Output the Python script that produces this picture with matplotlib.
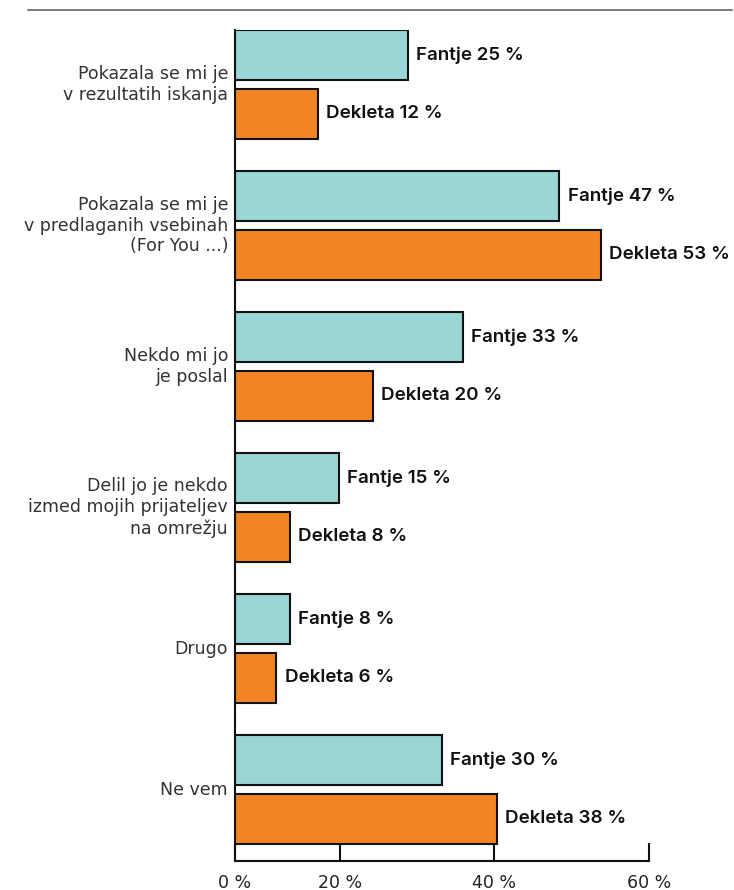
import matplotlib.pyplot as plt
from matplotlib.lines import Line2D
import numpy as np

# data
categories = [
    "Pokazala se mi je\nv rezultatih iskanja",
    "Pokazala se mi je\nv predlaganih vsebinah\n(For You ...)",
    "Nekdo mi jo\nje poslal",
    "Delil jo je nekdo\nizmed mojih prijateljev\nna omrežju",
    "Drugo",
    "Ne vem",
]
fantje = [25, 47, 33, 15, 8, 30]
dekleta = [12, 53, 20, 8, 6, 38]
series_names = ["Fantje", "Dekleta"]

# tick labels as printed (the middle ticks sit off the bar scale in the original)
tick_pos = [0, 15.2, 37.5, 60]
tick_labels = ["0 %", "20 %", "40 %", "60 %"]

teal = "#9ad5d5"
orange = "#f28423"

plt.rcParams['font.family'] = ['DejaVu Sans']

fig = plt.figure(figsize=(7.34, 8.90), dpi=100)
ax = fig.add_axes([235 / 734, 1 - 861 / 890, 414 / 734, 831 / 890])

y = np.arange(len(categories))
h = 0.355
off = 0.209

ax.barh(y - off, fantje, height=h, color=teal, edgecolor="#111111", linewidth=1.5)
ax.barh(y + off, dekleta, height=h, color=orange, edgecolor="#111111", linewidth=1.5)

for i in range(len(categories)):
    ax.text(fantje[i] + 1.2, y[i] - off, f"{series_names[0]} {fantje[i]} %",
            va="center", ha="left", fontsize=13.5, fontweight="semibold",
            family="Inter", color="#111111")
    ax.text(dekleta[i] + 1.2, y[i] + off, f"{series_names[1]} {dekleta[i]} %",
            va="center", ha="left", fontsize=13.5, fontweight="semibold",
            family="Inter", color="#111111")
    ax.text(-1.0, y[i], categories[i], va="center", ha="right", fontsize=12.5,
            color="#333333", linespacing=1.2)

ax.set_xlim(0, 60)
ax.set_ylim(5 + 71.5 / 141, -54.5 / 141)

ax.set_yticks([])
ax.set_xticks(tick_pos)
ax.set_xticklabels(tick_labels, fontsize=12.5, color="#222222")
ax.tick_params(axis="x", direction="in", length=13, width=1.5, pad=9, color="#111111")

for s in ["top", "right"]:
    ax.spines[s].set_visible(False)
for s in ["left", "bottom"]:
    ax.spines[s].set_linewidth(1.5)
    ax.spines[s].set_color("#111111")

# grey rule at the top
fig.add_artist(Line2D([28 / 734, 732 / 734], [1 - 10 / 890, 1 - 10 / 890],
                      color="#666666", linewidth=1.2))

fig.savefig("out.png", dpi=100)
